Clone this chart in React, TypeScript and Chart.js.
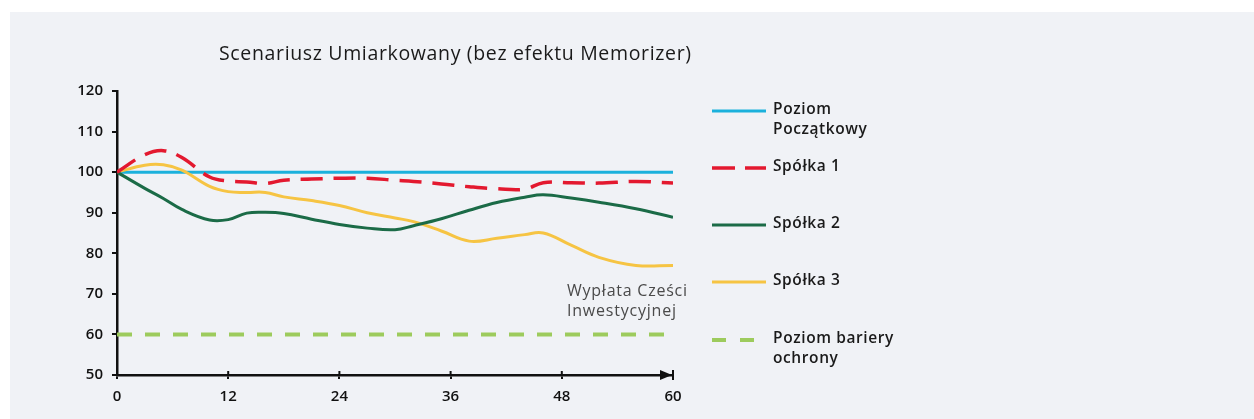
import React, { useEffect, useRef } from "react";
import Chart from "chart.js/auto";

const titleText = "Scenariusz Umiarkowany (bez efektu Memorizer)";
const noteLines = ["Wypłata Cześci", "Inwestycyjnej"];

const months = [0, 3, 5, 7, 10, 12, 14, 16, 18, 21, 24, 27, 30, 32, 35, 38, 41, 44, 46, 49, 52, 56, 60];
const spolka1 = [100, 104.3, 105.3, 103.6, 98.8, 97.8, 97.6, 97.2, 98.0, 98.3, 98.5, 98.5, 98.0, 97.7, 97.1, 96.4, 95.9, 95.8, 97.4, 97.4, 97.3, 97.7, 97.3];
const spolka2 = [100, 96.0, 93.5, 90.8, 88.2, 88.3, 89.9, 90.1, 89.8, 88.4, 87.1, 86.2, 85.8, 86.8, 88.5, 90.6, 92.5, 93.8, 94.4, 93.6, 92.6, 91.0, 88.9];
const spolka3 = [100, 101.7, 101.8, 100.5, 96.5, 95.2, 95.0, 95.0, 93.9, 93.0, 91.8, 90.0, 88.7, 87.8, 85.5, 83.0, 83.7, 84.6, 85.0, 82.0, 79.0, 77.0, 77.0];

const levelMonths = [0, 60];
const initialLevel = [100, 100];
const barrierLevel = [60, 60];

const xTicks = [0, 12, 24, 36, 48, 60];
const yTicks = [50, 60, 70, 80, 90, 100, 110, 120];

const legendItems = [
  { lines: ["Poziom", "Początkowy"], color: "#1bb1dc", dash: [] as number[], width: 3 },
  { lines: ["Spółka 1"], color: "#e3192f", dash: [23, 10], width: 3.5 },
  { lines: ["Spółka 2"], color: "#1b6b47", dash: [] as number[], width: 3 },
  { lines: ["Spółka 3"], color: "#f6c443", dash: [] as number[], width: 3 },
  { lines: ["Poziom bariery", "ochrony"], color: "#9dcb5d", dash: [14, 14], width: 4 },
];
const legendRows = [99, 156, 213, 270, 328];

const pts = (xs: number[], ys: number[]) => xs.map((x, i) => ({ x, y: ys[i] }));

const FONT = "'Open Sans', 'Noto Sans', sans-serif";

function fitText(ctx: any, text: string, x: number, y: number, target: number) {
  ctx.letterSpacing = "0px";
  const w = ctx.measureText(text).width;
  const sp = Math.max(0, (target - w) / Math.max(1, text.length - 1));
  ctx.letterSpacing = `${sp}px`;
  ctx.fillText(text, x, y);
  ctx.letterSpacing = "0px";
}

const decor = {
  id: "decor",
  afterDraw(chart: any) {
    const ctx = chart.ctx;
    const xs = chart.scales.x;
    const ys = chart.scales.y;
    const axisY = ys.getPixelForValue(50);
    ctx.save();
    ctx.strokeStyle = "#111";
    ctx.lineWidth = 2;
    xTicks.forEach((v) => {
      if (v === 0 || v === 60) return;
      const px = xs.getPixelForValue(v);
      ctx.beginPath();
      ctx.moveTo(px, axisY);
      ctx.lineTo(px, axisY - 4);
      ctx.stroke();
    });
    const endX = xs.getPixelForValue(60);
    ctx.fillStyle = "#111";
    ctx.beginPath();
    ctx.moveTo(endX - 1, axisY);
    ctx.lineTo(endX - 13, axisY - 5);
    ctx.lineTo(endX - 13, axisY + 5);
    ctx.closePath();
    ctx.fill();
    ctx.beginPath();
    ctx.moveTo(endX, axisY - 5);
    ctx.lineTo(endX, axisY + 5);
    ctx.stroke();

    ctx.textBaseline = "middle";
    ctx.textAlign = "left";

    ctx.fillStyle = "#1a1a1a";
    ctx.font = `500 19.5px ${FONT}`;
    fitText(ctx, titleText, 209, 42, 472);

    ctx.fillStyle = "#4a4a4a";
    ctx.font = `400 16px ${FONT}`;
    fitText(ctx, noteLines[0], 557, 279, 120);
    fitText(ctx, noteLines[1], 557, 299, 109);

    legendItems.forEach((it, i) => {
      const y = legendRows[i];
      ctx.strokeStyle = it.color;
      ctx.lineWidth = it.width;
      ctx.setLineDash(it.dash);
      ctx.beginPath();
      ctx.moveTo(702, y);
      ctx.lineTo(756, y);
      ctx.stroke();
      ctx.setLineDash([]);
      ctx.fillStyle = "#1a1a1a";
      ctx.font = `600 15.5px ${FONT}`;
      ctx.letterSpacing = "0.6px";
      it.lines.forEach((t, j) => ctx.fillText(t, 763, y - 1 + j * 20));
      ctx.letterSpacing = "0px";
    });
    ctx.restore();
  },
};

export default function App() {
  const ref = useRef<HTMLCanvasElement>(null);
  useEffect(() => {
    if (!ref.current) return;
    const chart = new Chart(ref.current, {
      type: "line",
      data: {
        datasets: [
          { label: "Poziom Początkowy", data: pts(levelMonths, initialLevel), borderColor: "#1bb1dc", borderWidth: 3, tension: 0, order: 5 },
          { label: "Spółka 1", data: pts(months, spolka1), borderColor: "#e3192f", borderWidth: 3.5, borderDash: [22, 11], tension: 0.4, order: 1 },
          { label: "Spółka 2", data: pts(months, spolka2), borderColor: "#1b6b47", borderWidth: 3, tension: 0.4, order: 2 },
          { label: "Spółka 3", data: pts(months, spolka3), borderColor: "#f6c443", borderWidth: 3, tension: 0.4, order: 3 },
          { label: "Poziom bariery ochrony", data: pts(levelMonths, barrierLevel), borderColor: "#9dcb5d", borderWidth: 4, borderDash: [15, 13], tension: 0, order: 4 },
        ],
      },
      options: {
        animation: false,
        responsive: false,
        devicePixelRatio: 1,
        layout: { padding: { left: 0, top: 79, right: 581, bottom: 14 } },
        elements: { point: { radius: 0, hoverRadius: 0 }, line: { borderCapStyle: "butt" } },
        plugins: { legend: { display: false }, title: { display: false }, tooltip: { enabled: false } },
        events: [],
        scales: {
          x: {
            type: "linear",
            min: 0,
            max: 60,
            afterBuildTicks: (s: any) => { s.ticks = xTicks.map((v) => ({ value: v })); },
            afterFit: (s: any) => { s.height = 30; },
            grid: { display: true, drawOnChartArea: false, drawTicks: true, tickLength: 4, color: "#111", lineWidth: 2 },
            border: { display: true, color: "#111", width: 2.5 },
            ticks: { color: "#111", padding: 9, maxRotation: 0, font: { family: FONT, size: 15, weight: "600" } },
          },
          y: {
            type: "linear",
            min: 50,
            max: 120,
            afterBuildTicks: (s: any) => { s.ticks = yTicks.map((v) => ({ value: v })); },
            afterFit: (s: any) => { s.width = 107; },
            grid: { display: true, drawOnChartArea: false, drawTicks: true, tickLength: 5, color: "#111", lineWidth: 2 },
            border: { display: true, color: "#111", width: 2.5 },
            ticks: { color: "#111", padding: 9, font: { family: FONT, size: 15, weight: "600" } },
          },
        },
      },
      plugins: [decor],
    } as any);
    return () => chart.destroy();
  }, []);
  return (
    <div style={{ position: "fixed", left: 10, top: 12, width: 1244, height: 407, background: "#f0f2f6" }}>
      <canvas ref={ref} width={1244} height={407} style={{ display: "block" }} />
    </div>
  );
}
